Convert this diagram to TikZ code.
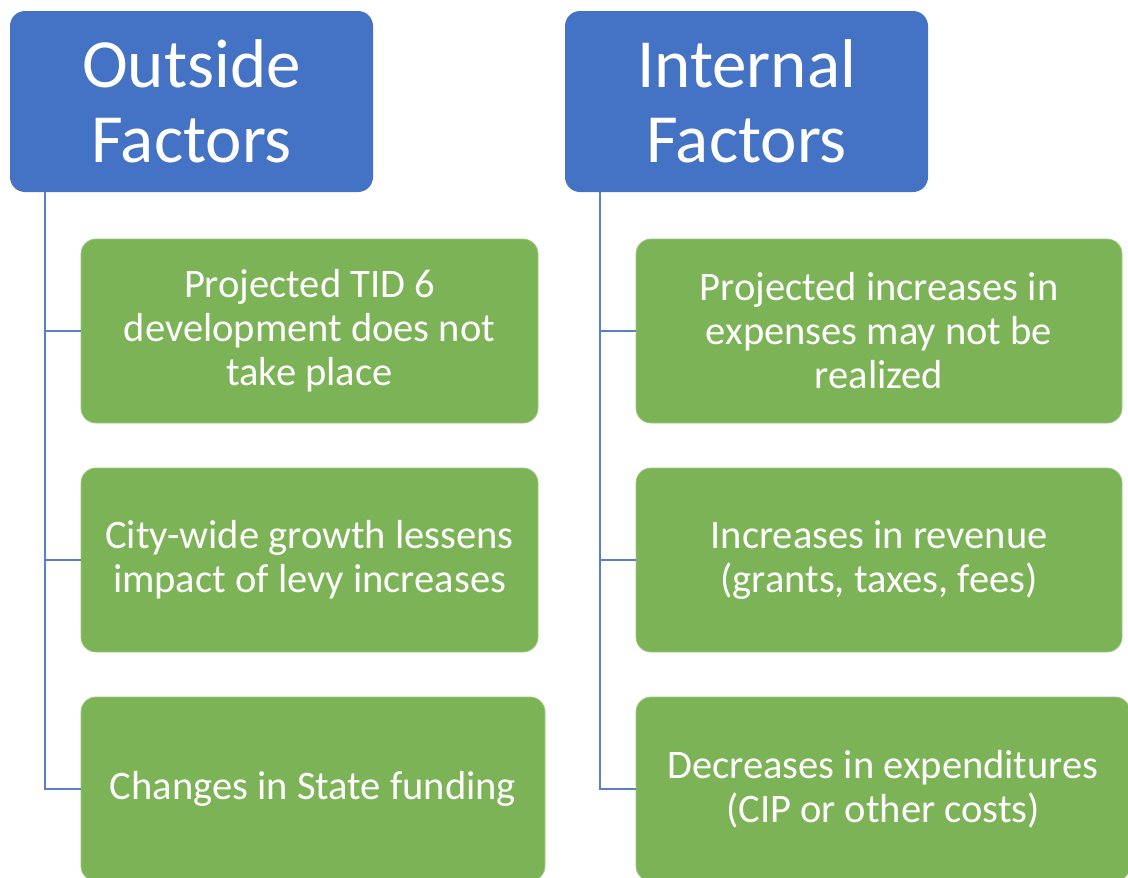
\documentclass[tikz,border=0pt]{standalone}
\usepackage{fontspec}
\setmainfont{Carlito}
\definecolor{hdrblue}{HTML}{4472C4}
\definecolor{itemgreen}{HTML}{7DB357}
\definecolor{linkblue}{HTML}{5A7FC8}
\tikzset{
  hdr/.style={rectangle, rounded corners=15pt, fill=hdrblue, text=white,
    align=center, inner sep=0pt,
    font=\fontsize{69}{75}\selectfont},
  item/.style={rectangle, rounded corners=15pt, fill=itemgreen,
    draw=itemgreen!75!white, line width=0.8pt, text=white,
    align=center, inner sep=0pt,
    font=\fontsize{40.5}{44}\selectfont},
  link/.style={draw=linkblue, line width=1.5pt}
}
\begin{document}
\begin{tikzpicture}[x=1pt,y=-1pt]
\useasboundingbox (0,0) rectangle (1128,878);
\clip (0,0) rectangle (1128,878);

% column headers
\node[hdr, minimum width=363pt, minimum height=181pt] (outside) at (191.5,101.5) {Outside\\Factors};
\node[hdr, minimum width=363pt, minimum height=181pt] (internal) at (746.5,101.5) {Internal\\Factors};

% outside factors
\node[item, minimum width=457pt, minimum height=184pt] (o1) at (309.5,331) {Projected TID 6\\development does not\\take place};
\node[item, minimum width=457pt, minimum height=184pt] (o2) at (309.5,560) {City-wide growth lessens\\impact of levy increases};
\node[item, minimum width=464pt, minimum height=184pt] (o3) at (313,789) {Changes in State funding};

% internal factors
\node[item, minimum width=486pt, minimum height=184pt] (i1) at (879,331) {Projected increases in\\expenses may not be\\realized};
\node[item, minimum width=486pt, minimum height=184pt] (i2) at (879,560) {Increases in revenue\\(grants, taxes, fees)};
\node[item, minimum width=494pt, minimum height=184pt] (i3) at (883,789) {Decreases in expenditures\\(CIP or other costs)};

% spines below the headers
\coordinate (ospine) at (45,192);
\coordinate (ispine) at (600,192);

\draw[link] (ospine) |- (o3.west);
\draw[link] (ospine |- o1.west) -- (o1.west);
\draw[link] (ospine |- o2.west) -- (o2.west);

\draw[link] (ispine) |- (i3.west);
\draw[link] (ispine |- i1.west) -- (i1.west);
\draw[link] (ispine |- i2.west) -- (i2.west);
\end{tikzpicture}
\end{document}
